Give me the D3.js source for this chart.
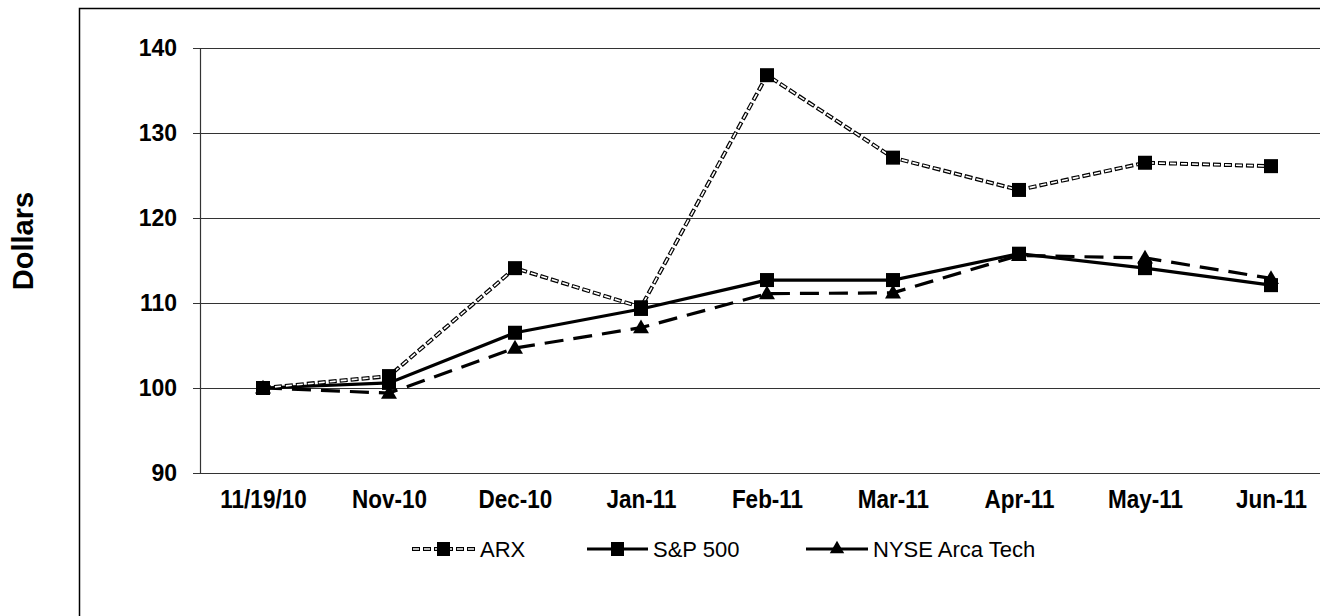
<!DOCTYPE html>
<html>
<head>
<meta charset="utf-8">
<script src="https://cdn.jsdelivr.net/npm/d3@7"></script>
<style>
  body { margin: 0; background: #fff; }
  svg { display: block; font-family: "Liberation Sans", Arial, sans-serif; }
  .tall { transform-box: fill-box; transform-origin: center; transform: scaleY(1.12); }
</style>
</head>
<body>
<svg id="chart" width="1320" height="616"></svg>
<script>
var categories = ["11/19/10", "Nov-10", "Dec-10", "Jan-11", "Feb-11", "Mar-11", "Apr-11", "May-11", "Jun-11"];
var arx = [100, 101.4, 114.1, 109.5, 136.8, 127.1, 123.3, 126.5, 126.1];
var sp500 = [100, 100.6, 106.5, 109.3, 112.7, 112.7, 115.8, 114.1, 112.1];
var arcaTech = [100, 99.4, 104.7, 107.1, 111.1, 111.2, 115.6, 115.3, 112.9];
var yTicks = [90, 100, 110, 120, 130, 140];

var svg = d3.select("#chart");

// outer frame (only left and top edges fall inside the picture)
svg.append("path")
    .attr("d", "M79.5,616 L79.5,8.5 L1320,8.5")
    .attr("fill", "none")
    .attr("stroke", "#000")
    .attr("stroke-width", 1.5);

var plotLeft = 200, plotRight = 1334, plotTop = 48, plotBottom = 473;

var xs = d3.scalePoint().domain(categories).range([plotLeft, plotRight]).padding(0.5);
var ys = d3.scaleLinear().domain([90, 140]).range([plotBottom, plotTop]);

// gridlines
svg.append("g")
    .selectAll("line")
    .data(yTicks)
    .enter()
    .append("line")
        .attr("x1", plotLeft - 7)
        .attr("x2", 1320)
        .attr("y1", function(d) { return Math.round(ys(d)) + 0.5; })
        .attr("y2", function(d) { return Math.round(ys(d)) + 0.5; })
        .attr("stroke", "#333")
        .attr("stroke-width", 1.2);

// y axis
var yAxis = d3.axisLeft(ys).tickValues(yTicks).tickSize(0).tickPadding(23);
var gy = svg.append("g")
    .attr("transform", "translate(" + plotLeft + ",0)")
    .call(yAxis);
gy.select(".domain").attr("stroke", "#333").attr("stroke-width", 1.2);
gy.selectAll("text")
    .attr("font-size", 23)
    .attr("font-weight", "bold")
    .attr("fill", "#000")
    .attr("font-family", "Liberation Sans, Arial, sans-serif");

// x axis labels
var xAxis = d3.axisBottom(xs).tickSize(0).tickPadding(18);
var gx = svg.append("g")
    .attr("transform", "translate(0," + plotBottom + ")")
    .call(xAxis);
gx.select(".domain").remove();
gx.selectAll("text")
    .attr("class", "tall")
    .attr("font-size", 22.5)
    .attr("font-weight", "bold")
    .attr("fill", "#000")
    .attr("font-family", "Liberation Sans, Arial, sans-serif");

// y title
svg.append("text")
    .attr("transform", "translate(33,241) rotate(-90)")
    .attr("text-anchor", "middle")
    .attr("font-size", 29)
    .attr("font-weight", "bold")
    .text("Dollars");

var line = d3.line()
    .x(function(d, i) { return xs(categories[i]); })
    .y(function(d) { return ys(d); });

var tri = d3.symbol().type(d3.symbolTriangle).size(110);

// NYSE Arca Tech
svg.append("path")
    .datum(arcaTech)
    .attr("d", line)
    .attr("fill", "none")
    .attr("stroke", "#000")
    .attr("stroke-width", 3.2)
    .attr("stroke-dasharray", "19,10");
svg.append("g").selectAll("path")
    .data(arcaTech)
    .enter()
    .append("path")
        .attr("d", tri)
        .attr("transform", function(d, i) { return "translate(" + xs(categories[i]) + "," + (ys(d) + 1) + ")"; })
        .attr("fill", "#000");

// S&P 500
svg.append("path")
    .datum(sp500)
    .attr("d", line)
    .attr("fill", "none")
    .attr("stroke", "#000")
    .attr("stroke-width", 3.2);
svg.append("g").selectAll("rect")
    .data(sp500)
    .enter()
    .append("rect")
        .attr("x", function(d, i) { return xs(categories[i]) - 7; })
        .attr("y", function(d) { return ys(d) - 7; })
        .attr("width", 14)
        .attr("height", 14)
        .attr("fill", "#000");

// ARX: hollow dashes
svg.append("path")
    .datum(arx)
    .attr("d", line)
    .attr("fill", "none")
    .attr("stroke", "#000")
    .attr("stroke-width", 4)
    .attr("stroke-dasharray", "8,3");
svg.append("path")
    .datum(arx)
    .attr("d", line)
    .attr("fill", "none")
    .attr("stroke", "#fff")
    .attr("stroke-width", 1.6)
    .attr("stroke-dasharray", "6,5")
    .attr("stroke-dashoffset", -1);
svg.append("g").selectAll("rect")
    .data(arx)
    .enter()
    .append("rect")
        .attr("x", function(d, i) { return xs(categories[i]) - 7; })
        .attr("y", function(d) { return ys(d) - 7; })
        .attr("width", 14)
        .attr("height", 14)
        .attr("fill", "#000");

// legend
var ly = 549;
var lg = svg.append("g");

function legendLine(x0, x1, style) {
    if (style == "arx") {
        lg.append("line").attr("x1", x0).attr("x2", x1).attr("y1", ly).attr("y2", ly)
            .attr("stroke", "#000").attr("stroke-width", 4).attr("stroke-dasharray", "8,3");
        lg.append("line").attr("x1", x0).attr("x2", x1).attr("y1", ly).attr("y2", ly)
            .attr("stroke", "#fff").attr("stroke-width", 1.6).attr("stroke-dasharray", "6,5")
            .attr("stroke-dashoffset", -1);
    } else {
        lg.append("line").attr("x1", x0).attr("x2", x1).attr("y1", ly).attr("y2", ly)
            .attr("stroke", "#000").attr("stroke-width", 3);
    }
}

legendLine(412, 476, "arx");
lg.append("rect").attr("x", 437).attr("y", ly - 7).attr("width", 13).attr("height", 14).attr("fill", "#000");
lg.append("text").attr("x", 480).attr("y", ly + 8).attr("font-size", 22).text("ARX");

legendLine(587, 648, "sp");
lg.append("rect").attr("x", 611).attr("y", ly - 7).attr("width", 13).attr("height", 14).attr("fill", "#000");
lg.append("text").attr("x", 653).attr("y", ly + 8).attr("font-size", 22).text("S&P 500");

legendLine(806, 868, "tech");
lg.append("path").attr("d", d3.symbol().type(d3.symbolTriangle).size(90))
    .attr("transform", "translate(837," + ly + ")").attr("fill", "#000");
lg.append("text").attr("x", 873).attr("y", ly + 8).attr("font-size", 22).text("NYSE Arca Tech");
</script>
</body>
</html>
